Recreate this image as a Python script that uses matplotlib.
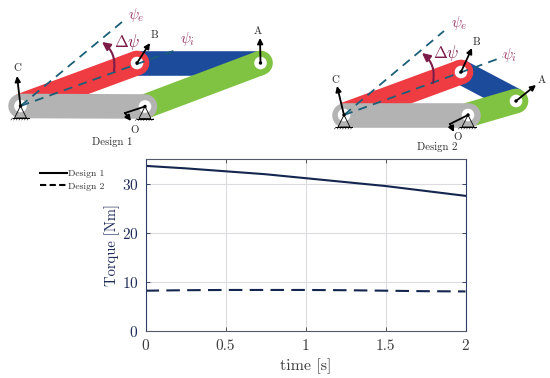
import matplotlib
matplotlib.use("Agg")
import matplotlib.pyplot as plt
from matplotlib.lines import Line2D
from matplotlib.patches import Circle, Polygon, FancyArrowPatch

plt.rcParams['font.family'] = ['cmr10', 'DejaVu Serif']
plt.rcParams['mathtext.fontset'] = 'cm'
plt.rcParams['axes.formatter.use_mathtext'] = True
plt.rcParams['axes.unicode_minus'] = False

# chart data
time_s = [0, 0.25, 0.5, 0.75, 1, 1.25, 1.5, 1.75, 2]
torque_design1 = [33.6, 33.1, 32.5, 31.9, 31.1, 30.3, 29.5, 28.5, 27.5]
torque_design2 = [8.2, 8.3, 8.35, 8.35, 8.35, 8.3, 8.2, 8.1, 8.05]
x_ticks = [0, 0.5, 1, 1.5, 2]
x_labels = ['0', '0.5', '1', '1.5', '2']
y_ticks = [0, 10, 20, 30]

# mechanism joints, in image pixels
design1 = dict(C=(20.5, 106), O=(145, 106.5), B=(137, 63), A=(260.5, 63))
design2 = dict(C=(344, 115), O=(468, 115), B=(461, 72), A=(516, 101))

NAVY = '#1d2b57'
GREY_TXT = '#3c3c3c'
MAROON = '#7d1c48'
PINK = '#9c3d6c'
TEAL = '#1c5f78'
LINK_R = 12.3


def link(ov, p, q, col, z, round_end=True):
  # butt start so the colour does not show round the grey bar
  ov.plot([p[0], q[0]], [p[1], q[1]], color=col, lw=17.7, solid_capstyle='butt', zorder=z)
  if round_end:
    ov.add_patch(Circle(q, LINK_R, color=col, lw=0, zorder=z))


def arrow(ov, pts, z=8):
  # polyline with a head on the last segment
  for i in range(len(pts) - 2):
    ov.plot([pts[i][0], pts[i+1][0]], [pts[i][1], pts[i+1][1]], color='black', lw=1.3, zorder=z)
  ov.add_patch(FancyArrowPatch(pts[-2], pts[-1], arrowstyle='-|>', mutation_scale=8,
                               color='black', lw=1.3, shrinkA=0, shrinkB=0, zorder=z))


def support(ov, p):
  x, y = p
  ov.add_patch(Polygon([(x, y), (x-6, y+12), (x+6, y+12)], closed=True, fill=False,
                       ec='black', lw=0.6, zorder=7))
  ov.plot([x-8, x+8], [y+12, y+12], color='black', lw=0.7, zorder=7)
  for i in range(7):
    hx = x - 8 + i * 2.7
    ov.plot([hx, hx-1.5], [y+12, y+14], color='black', lw=0.4, zorder=7)


def mechanism(ov, d, arrows, psi_e, psi_i, arc, labels, texts):
  C, O, B, A = d['C'], d['O'], d['B'], d['A']
  link(ov, B, A, '#1d4b9c', 1, round_end=False)
  link(ov, C, B, '#ee3c42', 2)
  link(ov, O, A, '#80c241', 3)
  ov.plot([C[0], O[0]], [C[1], O[1]], color='#b3b3b3', lw=17.7, solid_capstyle='round', zorder=4)
  for p in (C, O, B, A):
    ov.add_patch(Circle(p, 6.3, color='white', lw=0, zorder=5))
    ov.add_patch(Circle(p, 1.7, color='black', lw=0, zorder=9))
  support(ov, C)
  support(ov, O)
  for e in (psi_e, psi_i):
    ov.plot([C[0], e[0]], [C[1], e[1]], color=TEAL, lw=1.3, dashes=(5, 3.5), zorder=6)
  for pts in arrows:
    arrow(ov, pts)
  ov.add_patch(FancyArrowPatch(arc[0], arc[1], connectionstyle='arc3,rad=0.3', arrowstyle='-|>',
                               mutation_scale=12, color=MAROON, lw=1.5, shrinkA=0, shrinkB=0, zorder=8))
  for s, (x, y) in labels.items():
    ov.text(x, y, s, fontsize=7.8, color='#2a2a2a', ha='center', va='center', zorder=10)
  ov.text(texts['dpsi'][0], texts['dpsi'][1], r'$\Delta\psi$', fontsize=12, color=MAROON, ha='center', va='center', zorder=10)
  ov.text(texts['pe'][0], texts['pe'][1], r'$\psi_e$', fontsize=11, color=PINK, ha='center', va='center', zorder=10)
  ov.text(texts['pi'][0], texts['pi'][1], r'$\psi_i$', fontsize=11, color=PINK, ha='center', va='center', zorder=10)


fig = plt.figure(figsize=(5.5, 3.78), dpi=100)

# main chart
ax = fig.add_axes([145.5/550, 1-331/378, 320/550, 172/378])
ax.plot(time_s, torque_design1, color='#14264f', lw=1.5)
ax.plot(time_s, torque_design2, color='#14264f', lw=1.5, dashes=(6.5, 3.5))
ax.set_xlim(0, 2)
ax.set_ylim(0, 35)
ax.set_xticks(x_ticks)
ax.set_xticklabels(x_labels)
ax.set_yticks(y_ticks)
ax.grid(True, color='#dcdce0', lw=0.8)
ax.tick_params(axis='x', direction='in', length=3, width=0.6, colors=GREY_TXT, labelsize=11, pad=6)
ax.tick_params(axis='y', direction='in', length=3, width=0.6, colors=NAVY, labelsize=11, pad=5)
ax.tick_params(right=True, top=True)
for s in ('left', 'right'):
  ax.spines[s].set_color('#2f3c66')
for s in ('top', 'bottom'):
  ax.spines[s].set_color('#555a68')
ax.set_xlabel('time [s]', fontsize=11.5, color=GREY_TXT, labelpad=4)
ax.set_ylabel('Torque [Nm]', fontsize=10.5, color=NAVY, labelpad=1)

handles = [Line2D([], [], color='black', lw=1.5), Line2D([], [], color='black', lw=1.5, dashes=(3, 1.6))]
fig.legend(handles, ['Design 1', 'Design 2'], loc='center left', bbox_to_anchor=(40/550, 1-180/378),
           frameon=False, fontsize=7, labelcolor='#333333', handlelength=2.75, handletextpad=0.15,
           labelspacing=0.35, borderpad=0, borderaxespad=0)

# overlay in image pixels for the two mechanism sketches
ov = fig.add_axes([0, 0, 1, 1], facecolor='none')
ov.set_xlim(0, 550)
ov.set_ylim(378, 0)
ov.axis('off')

mechanism(ov, design1,
          arrows=[[design1['C'], (17, 76)], [design1['B'], (150, 43)], [design1['A'], (260, 38)],
                  [design1['O'], (125, 113), (131, 121)]],
          psi_e=(122, 22), psi_i=(176, 50), arc=((114, 71), (102, 42)),
          labels={'C': (17, 68), 'B': (154, 35), 'A': (258, 31), 'O': (135, 130), 'Design 1': (112, 142)},
          texts=dict(dpsi=(127, 42), pe=(136, 15), pi=(188, 39)))

mechanism(ov, design2,
          arrows=[[design2['C'], (337, 86)], [design2['B'], (472, 48)], [design2['A'], (536, 85)],
                  [design2['O'], (450, 124), (454, 132)]],
          psi_e=(444, 31), psi_i=(503, 57), arc=((433, 83), (422, 53)),
          labels={'C': (335, 80), 'B': (476, 42), 'A': (542, 80), 'O': (458, 137), 'Design 2': (437, 147)},
          texts=dict(dpsi=(446, 53), pe=(459, 23), pi=(510, 55)))

fig.savefig('out.png', dpi=100)
